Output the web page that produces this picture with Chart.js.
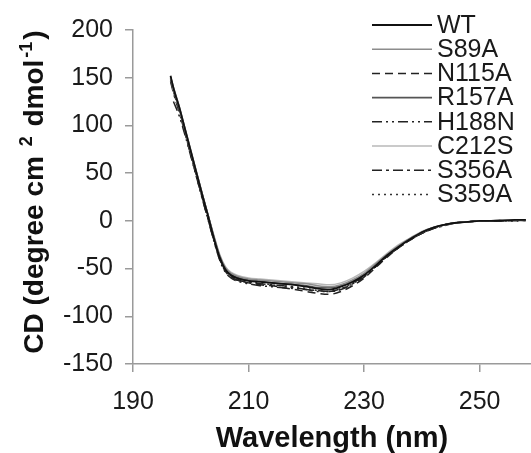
<!DOCTYPE html>
<html>
<head>
<meta charset="utf-8">
<script src="https://cdn.jsdelivr.net/npm/chart.js@4.4.1/dist/chart.umd.min.js"></script>
<style>
  html, body { margin: 0; padding: 0; background: #fff; }
  #wrap { width: 531px; height: 453px; position: relative; }
</style>
</head>
<body>
<div id="wrap"><canvas id="cd-chart"></canvas></div>
<script>
// Wavelength (nm) sampling shared by every spectrum
const wavelengths = [196.5, 197, 198, 199, 200, 201, 202, 203, 204, 205, 206, 207, 208, 210, 212, 214, 216, 218, 220, 222, 224, 226, 228, 230, 232, 234, 236, 238, 240, 242, 244, 246, 248, 250, 252, 254, 256, 258];

// CD signal per mutant (degree cm2 dmol-1)
const wt    = [152, 139, 119, 96, 73, 50, 27, 5, -18, -38, -51, -57, -60, -63, -64, -65, -66, -67, -69, -71, -72, -69, -64, -57, -47, -36, -27, -19, -12, -7, -4, -2, -1, 0, 0, 0, 1, 1];
const s89a  = [150, 138, 118, 95, 72, 50, 28, 6, -16, -36, -49, -55, -58, -61, -62, -63, -64, -65, -66, -68, -69, -67, -62, -55, -45, -35, -26, -18, -12, -7, -4, -2, -1, 0, 0, 1, 1, 1];
const n115a = [148, 136, 116, 93, 70, 47, 24, 2, -20, -40, -53, -59, -62, -65, -67, -68, -70, -72, -74, -76, -77, -74, -68, -60, -49, -38, -28, -20, -13, -8, -4, -2, -1, 0, 0, 0, 1, 0];
const r157a = [151, 140, 120, 97, 74, 51, 28, 6, -17, -37, -50, -56, -59, -62, -63, -65, -66, -67, -68, -70, -70, -68, -63, -56, -46, -36, -27, -19, -12, -7, -4, -2, -1, 0, 0, 1, 1, 1];
const h188n = [null, 125, 110, 90, 68, 46, 23, 1, -21, -41, -54, -60, -63, -66, -68, -69, -70, -71, -72, -74, -74, -71, -65, -58, -48, -37, -28, -20, -13, -8, -4, -2, -1, 0, 0, 0, 0, 1];
const c212s = [149, 137, 117, 95, 72, 49, 27, 6, -15, -35, -48, -54, -57, -60, -61, -62, -63, -64, -65, -66, -67, -65, -60, -53, -44, -34, -25, -18, -11, -7, -4, -2, -1, 0, 0, 0, 1, 1];
const s356a = [146, 134, 114, 92, 69, 46, 24, 2, -20, -39, -52, -58, -62, -64, -66, -67, -68, -70, -72, -73, -74, -72, -66, -59, -48, -37, -28, -20, -13, -8, -5, -2, -1, 0, 0, 0, 0, 1];
const s359a = [150, 138, 118, 95, 71, 48, 25, 3, -19, -39, -52, -58, -61, -64, -65, -67, -68, -69, -71, -73, -74, -71, -66, -58, -48, -37, -28, -20, -13, -8, -4, -2, -1, 0, 0, 1, 0, 1];

const seriesNames = ["WT", "S89A", "N115A", "R157A", "H188N", "C212S", "S356A", "S359A"];
const seriesValues = [wt, s89a, n115a, r157a, h188n, c212s, s356a, s359a];

const xTicks = [190, 210, 230, 250];
const yTicks = [200, 150, 100, 50, 0, -50, -100, -150];

// Y title pieces: [text, superscript?]
const yTitleParts = [["CD (degree cm ", false], ["2", true], [" dmol", false], ["-1", true], [")", false]];

// Line styles, same order as the names
const styles = [
  { color: "#111111", width: 1.8, dash: [] },
  { color: "#8c8c8c", width: 1.5, dash: [] },
  { color: "#222222", width: 1.5, dash: [8, 5] },
  { color: "#555555", width: 1.6, dash: [] },
  { color: "#222222", width: 1.5, dash: [10, 4, 2, 4, 2, 4] },
  { color: "#b8b8b8", width: 1.5, dash: [] },
  { color: "#222222", width: 1.5, dash: [10, 4, 3, 4] },
  { color: "#333333", width: 1.5, dash: [2, 4] },
];

const FONT = "'Liberation Sans', Arial, sans-serif";

// Legend drawn inside the plot, top right
const insideLegend = {
  id: "insideLegend",
  afterDraw(chart) {
    const ctx = chart.ctx;
    ctx.save();
    ctx.font = `25px ${FONT}`;
    ctx.textBaseline = "middle";
    ctx.textAlign = "left";
    chart.data.datasets.forEach((ds, i) => {
      const y = 25 + i * 24.2;
      ctx.beginPath();
      ctx.setLineDash(ds.borderDash || []);
      ctx.strokeStyle = ds.borderColor;
      ctx.lineWidth = ds.borderWidth;
      ctx.moveTo(372, y);
      ctx.lineTo(432, y);
      ctx.stroke();
      ctx.setLineDash([]);
      ctx.fillStyle = "#1a1a1a";
      ctx.fillText(ds.label, 437, y + 1);
    });
    ctx.restore();
  },
};

// Rotated y title with real superscripts
const yTitle = {
  id: "yTitle",
  afterDraw(chart) {
    const ctx = chart.ctx;
    const big = `bold 28px ${FONT}`;
    const small = `bold 18px ${FONT}`;
    ctx.save();
    let total = 0;
    yTitleParts.forEach(([t, sup]) => {
      ctx.font = sup ? small : big;
      total += ctx.measureText(t).width + (sup ? 4 : 0);
    });
    ctx.translate(43, 192);
    ctx.rotate(-Math.PI / 2);
    ctx.fillStyle = "#111";
    ctx.textBaseline = "alphabetic";
    ctx.textAlign = "left";
    let x = -total / 2;
    yTitleParts.forEach(([t, sup]) => {
      ctx.font = sup ? small : big;
      if (sup) x += 2;
      ctx.fillText(t, x, sup ? -11 : 0);
      x += ctx.measureText(t).width + (sup ? 2 : 0);
    });
    ctx.restore();
  },
};

const datasets = seriesNames.map((name, i) => ({
  label: name,
  data: wavelengths.map((w, j) => ({ x: w, y: seriesValues[i][j] })),
  borderColor: styles[i].color,
  borderWidth: styles[i].width,
  borderDash: styles[i].dash,
  pointRadius: 0,
  fill: false,
  cubicInterpolationMode: "monotone",
  spanGaps: false,
}));

new Chart(document.getElementById("cd-chart"), {
  type: "line",
  data: { datasets: datasets },
  options: {
    responsive: true,
    maintainAspectRatio: false,
    animation: false,
    layout: { padding: { top: 30, right: 0, bottom: 0, left: 0 } },
    plugins: {
      legend: { display: false },
      tooltip: { enabled: false },
    },
    scales: {
      x: {
        type: "linear",
        min: 190,
        max: 258.9,
        afterBuildTicks: (scale) => {
          scale.ticks = xTicks.map((v) => ({ value: v }));
        },
        afterFit: (scale) => {
          scale.height = 453 - 364;
        },
        ticks: {
          color: "#1a1a1a",
          font: { family: FONT, size: 25 },
          padding: 15,
          maxRotation: 0,
          autoSkip: false,
        },
        grid: {
          display: true,
          drawOnChartArea: false,
          drawTicks: true,
          tickLength: 8,
          color: "#9a9a9a",
          lineWidth: 1.5,
        },
        border: { color: "#9a9a9a", width: 1.5 },
        title: {
          display: true,
          text: "Wavelength (nm)",
          color: "#111",
          font: { family: FONT, size: 29, weight: "bold", lineHeight: 1.0 },
          padding: { top: 0, bottom: 0 },
        },
      },
      y: {
        min: -150,
        max: 200,
        afterBuildTicks: (scale) => {
          scale.ticks = yTicks.map((v) => ({ value: v }));
        },
        afterFit: (scale) => {
          scale.width = 133;
        },
        ticks: {
          color: "#1a1a1a",
          font: { family: FONT, size: 25 },
          padding: 12,
          autoSkip: false,
        },
        grid: {
          display: true,
          drawOnChartArea: false,
          drawTicks: true,
          tickLength: 8,
          color: "#9a9a9a",
          lineWidth: 1.5,
        },
        border: { color: "#9a9a9a", width: 1.5 },
      },
    },
  },
  plugins: [insideLegend, yTitle],
});
</script>
</body>
</html>
